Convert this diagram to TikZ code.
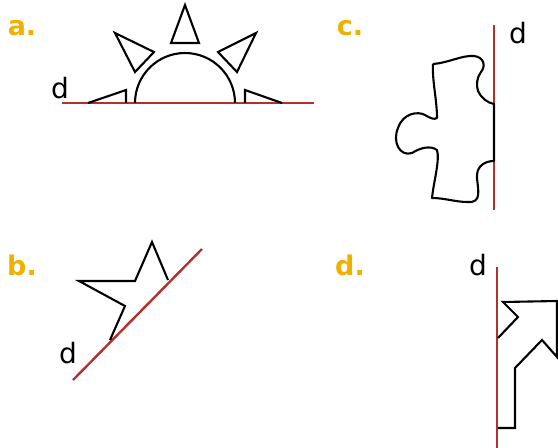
\documentclass[tikz,border=0pt]{standalone}
\usepackage{fontspec}
\setmainfont{DejaVu Sans}
\usepackage{xcolor}
\usepackage{tikz}
\definecolor{AxisRed}  {HTML}{B3312C}
\definecolor{LabelGold}{HTML}{F0B000}
\tikzset{
  panel/.style={text=LabelGold,font=\fontsize{27}{30}\selectfont\bfseries,inner sep=0pt},
  axisname/.style={font=\fontsize{28}{30}\selectfont,inner sep=0pt},
  axisline/.style={draw=AxisRed,line width=2.4pt},
  outline/.style={draw=black,line width=2.1pt,line join=miter}
}

\begin{document}
\begin{tikzpicture}[x=1pt,y=-1pt]
  \useasboundingbox (0,0) rectangle (558,448);
  % panel labels
  \node[panel] (la) at (22,28)  {a.};
  \node[panel] (lb) at (22,265) {b.};
  \node[panel] (lc) at (350,28) {c.};
  \node[panel] (ld) at (350,265) {d.};

  % a. sun on its axis
  \draw[axisline] (62,103) -- (314,103);
  \node[axisname] (da) at (60,88) {d};
  \draw[outline] (135,103) arc[start angle=180,end angle=360,radius=50];
  \draw[outline] (185,5) -- (171,43) -- (199,43) -- cycle;
  \draw[outline] (115,33) -- (154,52) -- (135,72) -- cycle;
  \draw[outline] (256,33) -- (218,52) -- (237,72) -- cycle;
  \draw[outline] (88,103) -- (126,90) -- (126,103);
  \draw[outline] (282,103) -- (245,90) -- (245,103);

  % b. star half
  \draw[axisline] (73,380) -- (202,249);
  \node[axisname] (db) at (68,353) {d};
  \draw[outline] (110,340) -- (125,306) -- (79,281) -- (135,281) -- (152,242) -- (168,280);

  % c. puzzle piece
  \draw[axisline] (494,25) -- (494,210);
  \node[axisname] (dc) at (518,33) {d};
  \draw[outline,line join=round] (433,64) .. controls (448,63) and (462,55) .. (474,56)
    .. controls (484,57) and (486,66) .. (481,72)
    .. controls (477,77) and (476,85) .. (478,91)
    .. controls (481,98) and (488,103) .. (494,104)
    -- (494,161)
    .. controls (485,161) and (476,166) .. (477,178)
    .. controls (478,190) and (482,203) .. (468,202)
    .. controls (455,202) and (445,198) .. (432,198)
    .. controls (434,180) and (440,160) .. (437,150)
    .. controls (430,145) and (420,148) .. (412,153)
    .. controls (400,157) and (392,142) .. (398,128)
    .. controls (403,113) and (418,111) .. (425,115)
    .. controls (430,118) and (434,120) .. (437,118)
    .. controls (437,100) and (432,80) .. (433,64);

  % d. bent arrow
  \draw[axisline] (497,267) -- (497,448);
  \node[axisname] (dd) at (478,265) {d};
  \draw[outline] (498,428) -- (515,428) -- (515,368) -- (542,340) -- (557,357)
    -- (557,301) -- (503,302) -- (518,317) -- (498,338);
\end{tikzpicture}
\end{document}
